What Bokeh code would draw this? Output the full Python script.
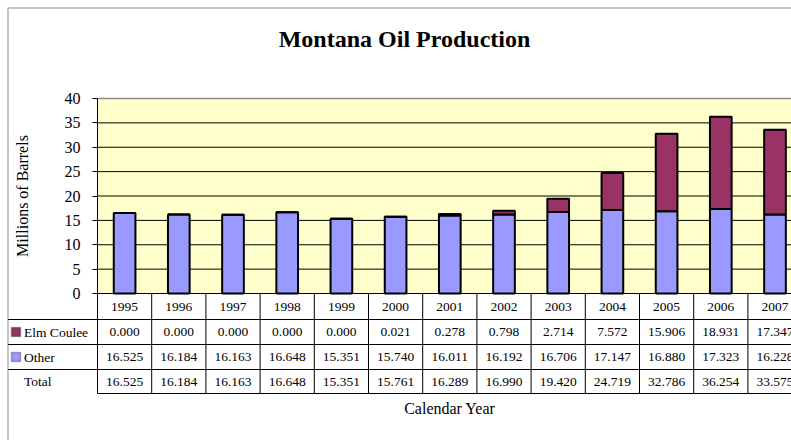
from bokeh.plotting import figure
from bokeh.models import Range1d, FixedTicker, BoxAnnotation, Label, ColumnDataSource
from bokeh.embed import file_html
from bokeh.resources import INLINE
from bokeh.core.properties import value

# ---------------- data ----------------
years = ["1995", "1996", "1997", "1998", "1999", "2000", "2001",
         "2002", "2003", "2004", "2005", "2006", "2007"]
elm_coulee = [0.000, 0.000, 0.000, 0.000, 0.000, 0.021, 0.278,
              0.798, 2.714, 7.572, 15.906, 18.931, 17.347]
other = [16.525, 16.184, 16.163, 16.648, 15.351, 15.740, 16.011,
         16.192, 16.706, 17.147, 16.880, 17.323, 16.228]
total = [16.525, 16.184, 16.163, 16.648, 15.351, 15.761, 16.289,
         16.990, 19.420, 24.719, 32.786, 36.254, 33.575]
y_ticks = [0, 5, 10, 15, 20, 25, 30, 35, 40]
row_names = ["Elm Coulee", "Other", "Total"]
title_text = "Montana Oil Production"
y_label = "Millions of Barrels"
x_label = "Calendar Year"

# ---------------- layout / style ----------------
FONT = "Liberation Serif"
ELM_COLOR = "#993366"
OTHER_COLOR = "#9999FF"
BG_COLOR = "#FFFFCC"

FIG_W, FIG_H = 791, 440
FRAME_L = 97          # px: plot-area left (value column 0)
FRAME_T = 98          # px: value 40
ZERO_PX = 293         # px: value 0
COL_W = 54.2          # px per category column
Y_MAX = 40
PX_UNIT = (ZERO_PX - FRAME_T) / Y_MAX
ROW_LINES_PX = [293, 319, 344, 369, 393]


def dx(px):
    return (px - FRAME_L) / COL_W


def dy(py):
    return (ZERO_PX - py) / PX_UNIT


p = figure(width=FIG_W, height=FIG_H, output_backend="svg", toolbar_location=None,
           x_range=Range1d(dx(0), dx(FIG_W)), y_range=Range1d(dy(FIG_H), dy(0)),
           min_border_left=0, min_border_right=0, min_border_top=0, min_border_bottom=0,
           background_fill_color="white", border_fill_color="white")
p.outline_line_color = None
p.xaxis.visible = False
p.xgrid.visible = False
p.ygrid.visible = False

n = len(years)
row_y = [dy(v) for v in ROW_LINES_PX]

# plot-area background
p.add_layout(BoxAnnotation(left=0, bottom=0, top=Y_MAX, fill_color=BG_COLOR, fill_alpha=1,
                           line_color=None, level="image"))

# gridlines of the plot area
grid_vals = [t for t in y_ticks if 0 < t < Y_MAX]
p.segment(x0=[0] * len(grid_vals), y0=grid_vals, x1=[n] * len(grid_vals), y1=grid_vals,
          line_color="black", line_width=1, level="underlay")
p.segment(x0=[0], y0=[Y_MAX], x1=[n], y1=[Y_MAX], line_color="#8c8c8c", line_width=1.5,
          level="underlay")

# y axis, fixed at the plot-area's left edge
yax = p.yaxis[0]
yax.fixed_location = 0
yax.bounds = (0, Y_MAX)
yax.ticker = FixedTicker(ticks=y_ticks)
yax.minor_tick_line_color = None
yax.major_tick_in = 0
yax.major_tick_out = 5
yax.major_tick_line_color = "black"
yax.axis_line_color = "black"
yax.major_label_standoff = 12
yax.major_label_text_font = FONT
yax.major_label_text_font_size = "16px"
yax.major_label_text_color = "black"
yax.axis_label = y_label
yax.axis_label_text_font = FONT
yax.axis_label_text_font_size = "16px"
yax.axis_label_text_font_style = "normal"
yax.axis_label_text_color = "black"
yax.axis_label_standoff = 31

# bars
xs = [i + 0.5 for i in range(n)]
stack_top = [o + e for o, e in zip(other, elm_coulee)]
src = ColumnDataSource(dict(x=xs, year=years, other=other, top=stack_top,
                            elm_t=["%.3f" % v for v in elm_coulee],
                            oth_t=["%.3f" % v for v in other],
                            tot_t=["%.3f" % v for v in total]))
p.vbar(x="x", width=0.4, bottom=0, top="other", source=src,
       fill_color=OTHER_COLOR, line_color="black", line_width=2)
p.vbar(x="x", width=0.4, bottom="other", top="top", source=src,
       fill_color=ELM_COLOR, line_color="black", line_width=2)

# data table grid
p.segment(x0=list(range(n + 1)), y0=[row_y[0]] * (n + 1),
          x1=list(range(n + 1)), y1=[row_y[-1]] * (n + 1),
          line_color="black", line_width=1)
p.segment(x0=[0] * len(row_y), y0=row_y, x1=[n] * len(row_y), y1=row_y,
          line_color="black", line_width=1)
# label column of the table
p.segment(x0=[dx(7.5)] * 3, y0=row_y[1:], x1=[0] * 3, y1=row_y[1:],
          line_color="black", line_width=1)

# table texts
row_centers = [(row_y[k] + row_y[k + 1]) / 2 for k in range(4)]
for k, col in enumerate(["year", "elm_t", "oth_t", "tot_t"]):
    p.text(x="x", y=row_centers[k], text=col, source=src,
           text_font=value(FONT), text_font_size="13.5px",
           text_align="center", text_baseline="middle", text_color="black")
p.text(x=[dx(23.5)] * 3, y=row_centers[1:], text=row_names,
       text_font=value(FONT), text_font_size="13.5px",
       text_align="left", text_baseline="middle", text_color="black")

# legend keys inside the table
for k, c in zip([1, 2], [ELM_COLOR, OTHER_COLOR]):
    cy = (ROW_LINES_PX[k] + ROW_LINES_PX[k + 1]) / 2
    p.add_layout(BoxAnnotation(left=dx(11), right=dx(20), top=dy(cy - 4.5), bottom=dy(cy + 4.5),
                               fill_color=c, fill_alpha=1, line_color="black", line_width=1.5))

# outer chart border (left and top visible)
p.add_layout(BoxAnnotation(left=dx(7.5), right=dx(3000), top=dy(7.5), bottom=dy(3000),
                           fill_alpha=0, line_color="black", line_width=1.5))

# title & x-axis title
p.add_layout(Label(x=dx(404), y=dy(38), text=title_text, text_font=FONT,
                   text_font_size="24px", text_font_style="bold",
                   text_align="center", text_baseline="middle", text_color="black"))
p.add_layout(Label(x=n / 2, y=dy(408), text=x_label, text_font=FONT,
                   text_font_size="16px", text_align="center", text_baseline="middle",
                   text_color="black"))

open("out.html", "w").write(file_html(p, INLINE))
